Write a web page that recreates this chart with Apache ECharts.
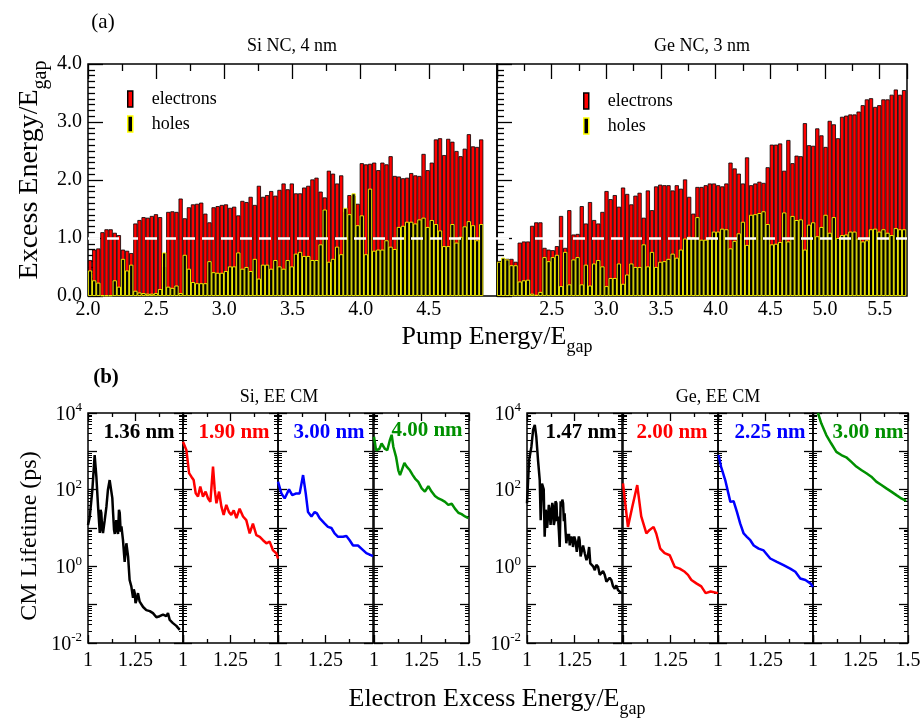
<!DOCTYPE html>
<html>
<head>
<meta charset="utf-8">
<script src="https://cdn.jsdelivr.net/npm/echarts@6/dist/echarts.min.js"></script>
<style>
  html, body { margin: 0; padding: 0; background: #fff; }
  #chart { width: 924px; height: 722px; }
</style>
</head>
<body>
<div id="chart"></div>
<script>
// ---- panel (a): excess energy per pump-energy bin ----
var siStart = 2.0, siStep = 0.0302;
var siElectrons = [
  0.62, 0.80, 0.82, 1.10, 1.15, 1.15, 1.09, 1.05, 0.80, 0.78,
  0.74, 1.25, 1.31, 1.36, 1.35, 1.38, 1.41, 1.36, 0.50, 1.45,
  1.46, 1.45, 1.68, 1.34, 1.53, 1.58, 1.59, 1.61, 1.42, 1.27,
  1.53, 1.55, 1.57, 1.58, 1.52, 1.54, 1.39, 1.64, 1.62, 1.71,
  1.57, 1.90, 1.71, 1.74, 1.81, 1.73, 1.83, 1.94, 1.84, 1.94,
  1.77, 1.77, 1.87, 1.90, 2.01, 2.04, 1.80, 1.70, 2.16, 2.11,
  1.94, 2.08, 1.45, 1.74, 1.73, 1.59, 2.29, 2.27, 2.28, 2.30,
  2.17, 2.30, 2.27, 2.41, 2.07, 2.06, 2.03, 2.04, 2.12, 2.08,
  2.07, 2.45, 2.17, 2.30, 2.70, 2.72, 2.43, 2.71, 2.66, 2.50,
  2.41, 2.54, 2.79, 2.58, 2.57, 2.70
];
var siHoles = [
  0.44, 0.27, 0.23, 0.01, 0.01, 0.01, 0.27, 0.16, 0.64, 0.44,
  0.54, 0.09, 0.06, 0.05, 0.04, 0.04, 0.05, 0.12, 0.75, 0.16,
  0.14, 0.18, 0.05, 0.71, 0.47, 0.24, 0.22, 0.22, 0.22, 0.60,
  0.41, 0.40, 0.40, 0.43, 0.51, 0.51, 0.75, 0.47, 0.50, 0.43,
  0.64, 0.30, 0.54, 0.54, 0.47, 0.62, 0.51, 0.47, 0.62, 0.51,
  0.73, 0.76, 0.69, 0.69, 0.62, 0.62, 0.89, 1.49, 0.59, 0.64,
  0.85, 0.72, 1.52, 1.41, 1.77, 1.22, 1.39, 0.72, 1.85, 0.78,
  0.80, 0.80, 0.96, 0.85, 0.81, 1.19, 1.21, 1.28, 1.28, 1.25,
  1.32, 1.35, 1.19, 1.31, 1.24, 1.13, 0.86, 0.86, 1.24, 0.92,
  1.02, 1.20, 1.29, 1.22, 0.96, 1.24
];
var geStart = 2.0, geStep = 0.0378;
var geElectrons = [
  0.60, 0.64, 0.64, 0.64, 0.59, 0.92, 0.94, 0.94, 1.21, 1.27,
  1.27, 0.83, 0.80, 0.79, 0.86, 1.38, 0.83, 1.48, 1.06, 1.07,
  1.55, 1.25, 1.62, 1.31, 1.25, 1.45, 1.81, 1.67, 1.74, 1.54,
  1.87, 1.76, 1.58, 1.73, 1.78, 1.35, 1.82, 1.48, 1.89, 1.92,
  1.91, 1.91, 1.82, 1.91, 1.85, 2.01, 1.71, 1.42, 1.88, 1.88,
  1.91, 1.94, 1.94, 1.91, 1.89, 1.94, 2.30, 2.20, 2.11, 1.94,
  2.39, 1.91, 1.94, 1.97, 1.95, 2.22, 2.61, 2.61, 2.63, 2.16,
  2.69, 2.29, 2.42, 2.41, 2.98, 2.60, 2.59, 2.89, 2.77, 2.57,
  3.02, 2.96, 2.72, 3.09, 3.11, 3.13, 3.13, 3.18, 3.29, 3.39,
  3.41, 3.26, 3.29, 3.39, 3.39, 3.47, 3.56, 3.47, 3.55
];
var geHoles = [
  0.59, 0.66, 0.63, 0.53, 0.53, 0.25, 0.27, 0.28, 0.04, 0.02,
  0.07, 0.67, 0.60, 0.67, 0.71, 0.17, 0.76, 0.20, 0.63, 0.67,
  0.20, 0.54, 0.18, 0.56, 0.62, 0.51, 0.17, 0.31, 0.31, 0.56,
  0.21, 0.37, 0.56, 0.50, 0.50, 0.89, 0.51, 0.76, 0.50, 0.59,
  0.60, 0.64, 0.73, 0.66, 0.80, 0.99, 1.02, 1.01, 1.36, 0.97,
  0.97, 1.01, 1.11, 1.11, 1.16, 1.15, 0.82, 0.95, 1.08, 1.28,
  0.88, 1.40, 1.41, 1.43, 1.46, 1.24, 0.89, 0.90, 0.93, 1.44,
  0.94, 1.38, 1.31, 1.32, 0.80, 1.23, 1.27, 1.03, 1.19, 1.40,
  1.09, 1.36, 1.00, 1.05, 1.06, 1.11, 1.11, 0.99, 0.94, 0.96,
  1.15, 1.16, 1.11, 1.15, 1.09, 1.05, 1.17, 1.15, 1.15
];

// ---- panel (b): [electron excess energy, CM lifetime (ps)] ----
var si136 = [[1.0,12],[1.009,19],[1.023,100],[1.035,800],[1.044,220],[1.053,36],[1.062,7.4],[1.066,30],[1.070,25],[1.075,9],[1.079,7.4],[1.088,16],[1.097,36],[1.105,100],[1.114,178],[1.123,160],[1.128,60],[1.132,25],[1.137,9],[1.141,7],[1.149,16],[1.153,9],[1.158,7],[1.163,30],[1.167,25],[1.172,8],[1.176,11],[1.184,4.9],[1.193,1.3],[1.202,4],[1.211,1.8],[1.219,0.44],[1.228,0.3],[1.237,0.15],[1.241,0.25],[1.246,0.2],[1.250,0.11],[1.255,0.13],[1.263,0.2],[1.272,0.12],[1.290,0.087],[1.307,0.072],[1.325,0.068],[1.342,0.06],[1.360,0.047],[1.377,0.05],[1.395,0.055],[1.412,0.05],[1.421,0.06],[1.430,0.04],[1.447,0.033],[1.465,0.028],[1.483,0.022]];
var si190 = [[1.0,1780],[1.018,1070],[1.032,270],[1.044,218],[1.056,178],[1.067,80],[1.079,66],[1.091,120],[1.105,66],[1.119,89],[1.132,59],[1.144,48],[1.158,400],[1.167,100],[1.176,44],[1.190,89],[1.202,36],[1.214,22],[1.228,40],[1.242,26],[1.254,22],[1.267,29],[1.281,18],[1.298,32],[1.316,20],[1.333,16],[1.351,7.2],[1.368,13],[1.386,6.5],[1.404,5.9],[1.421,4.8],[1.439,4.0],[1.456,4.4],[1.474,2.6],[1.491,2.2],[1.5,1.6]];
var si300 = [[1.0,162],[1.018,80],[1.035,59],[1.058,102],[1.075,72],[1.096,80],[1.114,80],[1.132,240],[1.146,80],[1.158,26],[1.176,20],[1.193,26],[1.205,24],[1.219,18],[1.246,13],[1.263,10.7],[1.281,10],[1.298,7.2],[1.316,5.9],[1.342,5.9],[1.360,6.2],[1.377,4.8],[1.395,3.5],[1.421,3.5],[1.439,2.9],[1.465,2.2],[1.5,1.85]];
var si400 = [[1.0,2400],[1.011,1070],[1.028,1150],[1.040,1600],[1.058,1150],[1.070,1070],[1.084,2000],[1.093,2700],[1.102,1300],[1.116,720],[1.128,320],[1.137,240],[1.146,320],[1.160,500],[1.172,400],[1.189,320],[1.204,240],[1.216,195],[1.233,160],[1.251,108],[1.268,89],[1.286,123],[1.303,89],[1.321,68],[1.339,59],[1.356,54],[1.374,48],[1.391,40],[1.409,43],[1.426,32],[1.444,25],[1.461,23],[1.479,20],[1.496,18]];
var ge147 = [[1.0,44],[1.011,590],[1.023,1300],[1.032,3600],[1.041,4900],[1.049,2400],[1.058,590],[1.067,178],[1.072,16],[1.079,145],[1.088,102],[1.093,5.9],[1.098,30],[1.102,24],[1.106,10],[1.111,8.9],[1.115,40],[1.119,29],[1.124,12],[1.128,10.7],[1.133,45],[1.137,36],[1.141,12],[1.146,16],[1.150,50],[1.155,44],[1.159,15],[1.163,20],[1.168,8],[1.172,3.2],[1.177,50],[1.181,36],[1.186,55],[1.190,44],[1.194,15],[1.198,24],[1.203,8],[1.207,4.0],[1.212,7],[1.216,4.8],[1.221,7],[1.225,3.5],[1.230,6],[1.234,4.4],[1.238,6],[1.242,3.2],[1.249,6],[1.256,4.4],[1.262,2.4],[1.269,2.6],[1.273,6],[1.277,4.8],[1.282,1.8],[1.286,2.2],[1.295,3.5],[1.304,2.2],[1.313,1.45],[1.320,1.8],[1.327,3.2],[1.333,1.2],[1.339,1.3],[1.348,1.0],[1.357,0.79],[1.365,1.1],[1.374,0.97],[1.383,0.6],[1.392,0.54],[1.400,0.75],[1.409,0.6],[1.418,0.4],[1.427,0.36],[1.435,0.5],[1.444,0.44],[1.453,0.3],[1.462,0.26],[1.470,0.32],[1.479,0.24],[1.488,0.22],[1.497,0.2]];
var ge200 = [[1.0,145],[1.026,10.7],[1.049,36],[1.075,132],[1.096,20],[1.123,7.2],[1.140,8.9],[1.161,10.7],[1.175,7.2],[1.196,2.9],[1.219,2.2],[1.246,1.95],[1.272,0.97],[1.298,0.87],[1.325,0.72],[1.342,0.6],[1.360,0.44],[1.386,0.36],[1.412,0.3],[1.435,0.2],[1.461,0.22],[1.5,0.2]];
var ge225 = [[1.003,800],[1.016,400],[1.038,178],[1.065,48],[1.082,50],[1.100,26],[1.117,13],[1.135,7.2],[1.152,5.9],[1.170,4.8],[1.188,3.5],[1.214,2.9],[1.240,2.6],[1.275,1.6],[1.310,1.3],[1.345,1.07],[1.380,0.87],[1.407,0.72],[1.433,0.48],[1.460,0.44],[1.486,0.36],[1.5,0.29]];
var ge300 = [[1.026,10000],[1.044,5300],[1.070,2650],[1.096,1600],[1.123,970],[1.149,800],[1.175,700],[1.202,530],[1.228,400],[1.254,325],[1.281,268],[1.307,218],[1.333,162],[1.360,132],[1.386,108],[1.412,89],[1.439,72],[1.465,59],[1.491,51]];

var sizeLabels = ['1.36 nm', '1.90 nm', '3.00 nm', '4.00 nm', '1.47 nm', '2.00 nm', '2.25 nm', '3.00 nm'];
var sizeColors = ['#000000', '#ff0000', '#0000ff', '#009000', '#000000', '#ff0000', '#0000ff', '#009000'];
var lifetimes = [si136, si190, si300, si400, ge147, ge200, ge225, ge300];

var FONT = 'Liberation Serif';
var chart = echarts.init(document.getElementById('chart'));

function bins(start, step, vals) {
  return vals.map(function (v, i) { return [start + (i + 0.5) * step, v]; });
}

var grids = [], xAxes = [], yAxes = [], series = [];
var labelStyle = { fontFamily: FONT, fontSize: 20, color: '#000' };

// ---- top panels ----
function topPanel(left, width, xmax, showMin, start, step, elec, hole) {
  var g = grids.length;
  grids.push({ left: left, top: 64, width: width, height: 232, show: true,
               borderColor: '#000', borderWidth: 1.5 });
  var xi = xAxes.length;
  xAxes.push({ type: 'value', gridIndex: g, min: 2, max: xmax, interval: 0.5,
    axisLine: { show: false }, splitLine: { show: false },
    axisTick: { inside: true, length: 12, lineStyle: { color: '#000' } },
    axisLabel: Object.assign({ margin: 4, showMinLabel: showMin, showMaxLabel: false,
      formatter: function (v) { return v.toFixed(1); } }, labelStyle) });
  xAxes.push({ type: 'value', gridIndex: g, position: 'top', min: 2, max: xmax, interval: 0.5,
    axisLine: { show: false }, splitLine: { show: false }, axisLabel: { show: false },
    axisTick: { inside: true, length: 15, lineStyle: { color: '#000', width: 1.3 } },
    minorTick: { show: true, splitNumber: 2, length: 7, lineStyle: { color: '#000', width: 1.3 } } });
  var yi = yAxes.length;
  yAxes.push({ type: 'value', gridIndex: g, min: 0, max: 4, interval: 1,
    axisLine: { show: false }, splitLine: { show: false },
    axisTick: { inside: true, length: 15, lineStyle: { color: '#000', width: 1.3 } },
    minorTick: { show: true, splitNumber: 10, length: 7, lineStyle: { color: '#000', width: 1.3 } },
    axisLabel: Object.assign({ show: g === 0, margin: 6,
      formatter: function (v) { return v.toFixed(1); } }, labelStyle) });
  series.push({ name: 'electrons', type: 'bar', xAxisIndex: xi, yAxisIndex: yi,
    data: bins(start, step, elec), barWidth: 4.2, barGap: '-100%',
    itemStyle: { color: '#ff0000', borderColor: '#000', borderWidth: 0.8 } });
  series.push({ name: 'holes', type: 'bar', xAxisIndex: xi, yAxisIndex: yi,
    data: bins(start, step, hole), barWidth: 4.2, barGap: '-100%',
    itemStyle: { color: '#000', borderColor: '#ffff00', borderWidth: 0.9 },
    markLine: { silent: true, symbol: 'none', label: { show: false },
      lineStyle: { color: '#fff', type: [12, 7], width: 2.5 },
      data: [{ yAxis: 1 }] } });
}
topPanel(88, 409, 5.0, true, siStart, siStep, siElectrons, siHoles);
topPanel(497, 410, 5.75, false, geStart, geStep, geElectrons, geHoles);

// ---- bottom panels ----
var lefts = [88, 183, 278, 374, 527, 623, 718, 813];
lefts.forEach(function (left, k) {
  var g = grids.length;
  var first = (k === 0 || k === 4), last = (k === 3 || k === 7);
  grids.push({ left: left, top: 413, width: 95, height: 230, show: true,
               borderColor: '#000', borderWidth: 1.5 });
  var xi = xAxes.length;
  xAxes.push({ type: 'value', gridIndex: g, min: 1, max: 1.5, interval: 0.25,
    axisLine: { show: false }, splitLine: { show: false },
    axisTick: { inside: true, length: 8, lineStyle: { color: '#000', width: 1.3 } },
    minorTick: { show: true, splitNumber: 2, length: 4, lineStyle: { color: '#000', width: 1.3 } },
    axisLabel: Object.assign({ margin: 8, showMaxLabel: last,
      formatter: function (v) { return v === 1 ? '1' : String(v); } }, labelStyle) });
  xAxes.push({ type: 'value', gridIndex: g, position: 'top', min: 1, max: 1.5, interval: 0.25,
    axisLine: { show: false }, splitLine: { show: false }, axisLabel: { show: false },
    axisTick: { inside: true, length: 8, lineStyle: { color: '#000', width: 1.3 } },
    minorTick: { show: true, splitNumber: 2, length: 4, lineStyle: { color: '#000', width: 1.3 } } });
  var yi = yAxes.length;
  var logAxis = function (pos, labels) {
    return { type: 'log', logBase: 10, gridIndex: g, position: pos, min: 0.01, max: 10000,
      splitNumber: 6, axisLine: { show: false }, splitLine: { show: false },
      axisTick: { inside: true, length: 9, lineStyle: { color: '#000', width: 1.3 } },
      minorTick: { show: true, splitNumber: 9, length: 4, lineStyle: { color: '#000', width: 1 } },
      axisLabel: { show: labels, margin: 6,
        formatter: function (v) {
          var e = Math.round(Math.log(v) / Math.LN10);
          return e % 2 === 0 ? '{b|10}{s|' + e + '}' : '';
        },
        rich: {
          b: { fontFamily: FONT, fontSize: 20, color: '#000', verticalAlign: 'bottom' },
          s: { fontFamily: FONT, fontSize: 13, color: '#000', verticalAlign: 'bottom', padding: [0, 0, 10, 0] }
        } } };
  };
  yAxes.push(logAxis('left', first));
  yAxes.push(logAxis('right', false));
  series.push({ type: 'line', xAxisIndex: xi, yAxisIndex: yi, data: lifetimes[k],
    showSymbol: false, clip: true,
    lineStyle: { color: sizeColors[k], width: 2.5 }, itemStyle: { color: sizeColors[k] } });
});

// ---- texts ----
var graphics = [];
function txt(x, y, s, size, opts) {
  opts = opts || {};
  graphics.push({ type: 'text', x: x, y: y, rotation: opts.rot || 0, silent: true,
    style: { text: s, fill: opts.color || '#000',
      font: (opts.bold ? 'bold ' : '') + size + 'px ' + FONT,
      textAlign: 'center', textVerticalAlign: 'middle', rich: opts.rich } });
}
function subRich(size) {
  return {
    a: { fontFamily: FONT, fontSize: size, fill: '#000', verticalAlign: 'top', lineHeight: size + 6 },
    g: { fontFamily: FONT, fontSize: Math.round(size * 0.7), fill: '#000', verticalAlign: 'top',
         lineHeight: size + 6, padding: [Math.round(size * 0.55), 0, 0, 0] }
  };
}
txt(103, 22, '(a)', 21);
txt(106, 378, '(b)', 21, { bold: true });
txt(292, 46, 'Si NC, 4 nm', 18);
txt(702, 46, 'Ge NC, 3 nm', 18);
txt(279, 397, 'Si, EE CM', 18);
txt(718, 397, 'Ge, EE CM', 18);
txt(497, 340, '{a|Pump Energy/E}{g|gap}', 26, { rich: subRich(26) });
txt(497, 702, '{a|Electron Excess Energy/E}{g|gap}', 26, { rich: subRich(26) });
txt(33, 170, '{a|Excess Energy/E}{g|gap}', 28, { rich: subRich(28), rot: Math.PI / 2 });
txt(30, 536, 'CM Lifetime (ps)', 24, { rot: Math.PI / 2 });
var sizeX = [139, 234, 329, 427, 581, 672, 770, 868];
sizeLabels.forEach(function (s, k) {
  txt(sizeX[k], k === 3 ? 431 : 433, s, 21, { bold: true, color: sizeColors[k] });
});

var legendItems = [
  { name: 'electrons', itemStyle: { color: '#ff0000', borderColor: '#000', borderWidth: 1.5 } },
  { name: 'holes', itemStyle: { color: '#000', borderColor: '#ffff00', borderWidth: 1.5 } }
];
function legendAt(left, top) {
  return { left: left, top: top, orient: 'vertical', icon: 'rect', itemWidth: 5, itemHeight: 16,
    itemGap: 7, selectedMode: false, data: legendItems,
    textStyle: { fontFamily: FONT, fontSize: 18, color: '#000', padding: [0, 0, 0, 14] } };
}

chart.setOption({
  animation: false,
  backgroundColor: '#fff',
  grid: grids,
  xAxis: xAxes,
  yAxis: yAxes,
  legend: [legendAt(122, 85), legendAt(578, 87)],
  series: series,
  graphic: graphics
});
</script>
</body>
</html>
